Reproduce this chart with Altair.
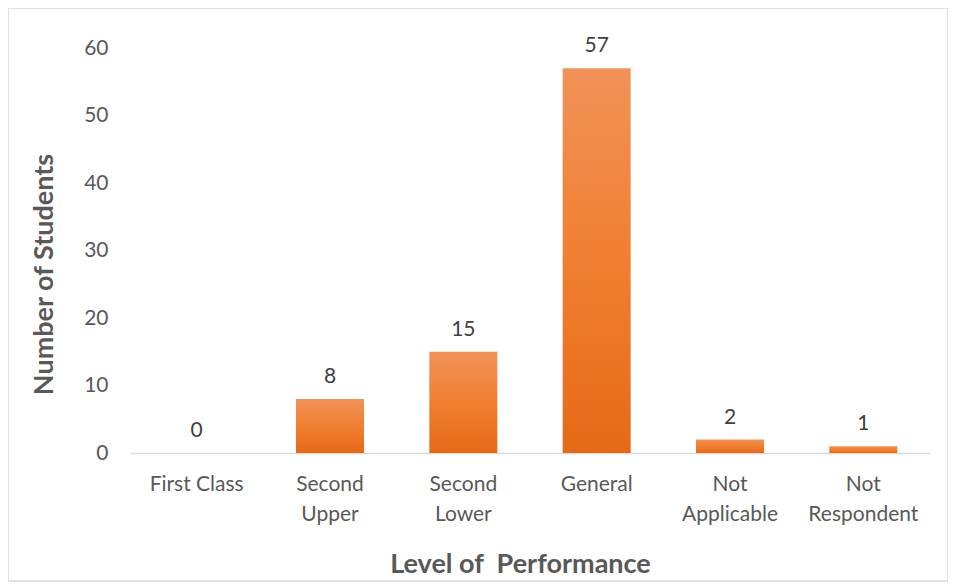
import altair as alt
import pandas as pd

categories = ["First Class", "Second Upper", "Second Lower", "General", "Not Applicable", "Not Respondent"]
students = [0, 8, 15, 57, 2, 1]

df = pd.DataFrame({"level": categories, "count": students})

W, H = 800, 405
FONT = "Lato"

grad = alt.Gradient(
    gradient="linear",
    stops=[
        alt.GradientStop(color="#F19259", offset=0),
        alt.GradientStop(color="#F07F31", offset=0.5),
        alt.GradientStop(color="#E56A17", offset=1),
    ],
    x1=0, x2=0, y1=0, y2=1,
)

x_enc = alt.X(
    "level:N",
    sort=categories,
    scale=alt.Scale(paddingInner=0.49, paddingOuter=0.245),
    axis=alt.Axis(
        title="Level of\u00a0 Performance",
        labelAngle=0,
        labelExpr="datum.label == 'First Class' ? datum.label : split(datum.label, ' ')",
        labelFont=FONT,
        labelFontSize=21,
        labelColor="#595959",
        labelLineHeight=30,
        labelPadding=20,
        labelBaseline="top",
        ticks=False,
        domain=True,
        domainColor="#D9D9D9",
        domainWidth=1.5,
        titleFont=FONT,
        titleFontSize=27,
        titleFontWeight="bold",
        titleColor="#595959",
        titleX=390,
        titleY=111,
        titleAlign="center",
        titleBaseline="middle",
    ),
)

y_enc = alt.Y(
    "count:Q",
    scale=alt.Scale(domain=[0, 60]),
    axis=alt.Axis(
        title="Number of Students",
        values=[0, 10, 20, 30, 40, 50, 60],
        grid=False,
        ticks=False,
        domain=False,
        labelFont=FONT,
        labelFontSize=21,
        labelColor="#595959",
        labelPadding=22,
        titleFont=FONT,
        titleFontSize=27,
        titleFontWeight="bold",
        titleColor="#595959",
        titleX=-86,
        titleY=226,
        titleAlign="center",
        titleBaseline="middle",
    ),
)

border = alt.Chart(pd.DataFrame({"a": [0]})).mark_rect(
    fill=None, stroke="#D9D9D9", strokeWidth=1.5
).encode(
    x=alt.value(-122), x2=alt.value(818), y=alt.value(-40), y2=alt.value(533)
)

bars = alt.Chart(df).mark_bar(color=grad).encode(x=x_enc, y=y_enc)

labels = alt.Chart(df).mark_text(
    font=FONT, fontSize=21, color="#404040", dy=-16, baseline="alphabetic"
).encode(x=alt.X("level:N", sort=categories), y="count:Q", text="count:Q")

chart = alt.layer(border, bars, labels).properties(
    width=W,
    height=H,
    autosize=alt.AutoSizeParams(type="none"),
    padding={"left": 122, "top": 40, "right": 18, "bottom": 130},
).configure(background="white").configure_view(strokeWidth=0, stroke="transparent")

chart.save("out.html", embed_options={"renderer": "svg", "actions": False})
